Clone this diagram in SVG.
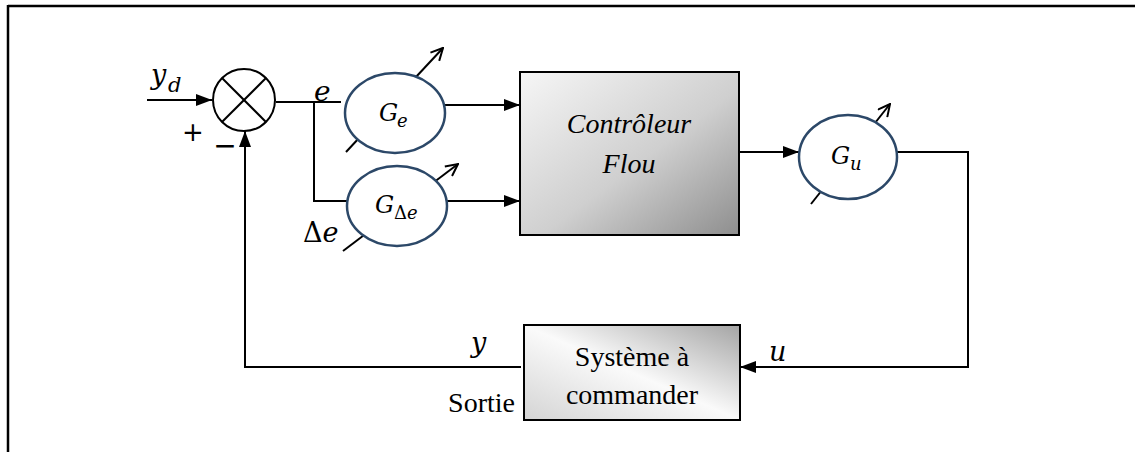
<svg xmlns="http://www.w3.org/2000/svg" width="1135" height="452" viewBox="0 0 1135 452">
  <style>
    .wire { fill: none; stroke: #000; stroke-width: 2; }
    .frame { fill: none; stroke: #000; stroke-width: 2.5; }
    .gain { fill: #fff; stroke: #2c4868; stroke-width: 2.5; }
    .knob { fill: none; stroke: #000; stroke-width: 2; }
    .box { stroke: #000; stroke-width: 2; }
    .math { font-family: "DejaVu Serif", "Liberation Serif", serif; font-style: italic; fill: #000; }
    .up { font-style: normal; }
    .roman { font-family: "Liberation Serif", "Times New Roman", serif; fill: #000; }
    .sign { font-family: "DejaVu Sans", "Liberation Sans", sans-serif; fill: #000; }
  </style>
  <defs>
    <marker id="tri" viewBox="0 0 16 12" refX="16" refY="6" markerWidth="16" markerHeight="12" markerUnits="userSpaceOnUse" orient="auto">
      <path d="M0,0 L16,6 L0,12 Z" fill="#000"/>
    </marker>
    <marker id="open" viewBox="0 0 14 14" refX="13" refY="7" markerWidth="14" markerHeight="14" markerUnits="userSpaceOnUse" orient="auto">
      <path d="M1,1 L13,7 L1,13" fill="none" stroke="#000" stroke-width="2"/>
    </marker>
    <linearGradient id="gradCtrl" x1="0" y1="0" x2="1" y2="1">
      <stop offset="0" stop-color="#f6f6f6"/>
      <stop offset="0.55" stop-color="#cfcfcf"/>
      <stop offset="1" stop-color="#8e8e8e"/>
    </linearGradient>
    <linearGradient id="gradSys" x1="1" y1="0" x2="0" y2="1">
      <stop offset="0" stop-color="#a4a4a4"/>
      <stop offset="0.5" stop-color="#fafafa"/>
      <stop offset="1" stop-color="#d4d4d4"/>
    </linearGradient>
  </defs>

  <!-- outer frame (top and left edges) -->
  <g id="frame">
    <line class="frame" x1="8" y1="6" x2="1135" y2="6"/>
    <line class="frame" x1="8" y1="5" x2="8" y2="452"/>
  </g>

  <!-- connectors -->
  <g id="connectors">
    <line class="wire" x1="147" y1="100" x2="212" y2="100" marker-end="url(#tri)"/>
    <polyline class="wire" points="276,102 341,102"/>
    <polyline class="wire" points="314,102 314,201 347,201"/>
    <line class="wire" x1="445" y1="105" x2="520" y2="105" marker-end="url(#tri)"/>
    <line class="wire" x1="447" y1="201" x2="520" y2="201" marker-end="url(#tri)"/>
    <line class="wire" x1="739" y1="152" x2="799" y2="152" marker-end="url(#tri)"/>
    <polyline class="wire" points="897,152 968,152 968,367 740,367" marker-end="url(#tri)"/>
    <polyline class="wire" points="521,367 245,367 245,131" marker-end="url(#tri)"/>
  </g>

  <!-- summing junction -->
  <g id="sum">
    <circle cx="244" cy="100" r="31" fill="#fff" stroke="#000" stroke-width="2"/>
    <line class="wire" x1="222" y1="78" x2="266" y2="122"/>
    <line class="wire" x1="266" y1="78" x2="222" y2="122"/>
    <text class="sign" x="193" y="141" font-size="26" text-anchor="middle">+</text>
    <text class="sign" x="225" y="155" font-size="28" text-anchor="middle">−</text>
  </g>

  <!-- signal labels -->
  <g id="labels">
    <text class="math" x="151" y="84" font-size="27">y</text>
    <text class="math" x="168" y="92" font-size="21">d</text>
    <text class="math" x="314" y="101" font-size="28">e</text>
    <text class="math" x="303" y="242" font-size="27"><tspan class="up">Δ</tspan>e</text>
    <text class="math" x="471" y="352" font-size="27">y</text>
    <text class="math" x="769" y="361" font-size="27">u</text>
    <text class="roman" x="515" y="412" font-size="28" text-anchor="end">Sortie</text>
  </g>

  <!-- adjustable gain G_e -->
  <g id="gain-e">
    <line class="knob" x1="346" y1="152" x2="443" y2="48" marker-end="url(#open)"/>
    <ellipse class="gain" cx="395" cy="113" rx="50" ry="40"/>
    <text class="math" x="379" y="121" font-size="24">G</text>
    <text class="math" x="397" y="127" font-size="18">e</text>
  </g>

  <!-- adjustable gain G_Δe -->
  <g id="gain-de">
    <line class="knob" x1="343" y1="251" x2="458" y2="164" marker-end="url(#open)"/>
    <ellipse class="gain" cx="397" cy="206" rx="50" ry="40"/>
    <text class="math" x="375" y="213" font-size="24">G</text>
    <text class="math" x="394" y="219" font-size="18"><tspan class="up">Δ</tspan>e</text>
  </g>

  <!-- fuzzy controller -->
  <g id="controller">
    <rect class="box" x="520" y="72" width="219" height="163" fill="url(#gradCtrl)"/>
    <text class="roman" x="629" y="133" font-size="28" font-style="italic" text-anchor="middle">Contrôleur</text>
    <text class="roman" x="629" y="173" font-size="28" font-style="italic" text-anchor="middle">Flou</text>
  </g>

  <!-- adjustable gain G_u -->
  <g id="gain-u">
    <line class="knob" x1="811" y1="204" x2="890" y2="104" marker-end="url(#open)"/>
    <ellipse class="gain" cx="848" cy="157" rx="49" ry="42"/>
    <text class="math" x="831" y="164" font-size="24">G</text>
    <text class="math" x="850" y="170" font-size="18">u</text>
  </g>

  <!-- controlled plant -->
  <g id="plant">
    <rect class="box" x="524" y="325" width="216" height="95" fill="url(#gradSys)"/>
    <text class="roman" x="632" y="366" font-size="28" text-anchor="middle">Système à</text>
    <text class="roman" x="632" y="404" font-size="28" text-anchor="middle">commander</text>
  </g>
</svg>
